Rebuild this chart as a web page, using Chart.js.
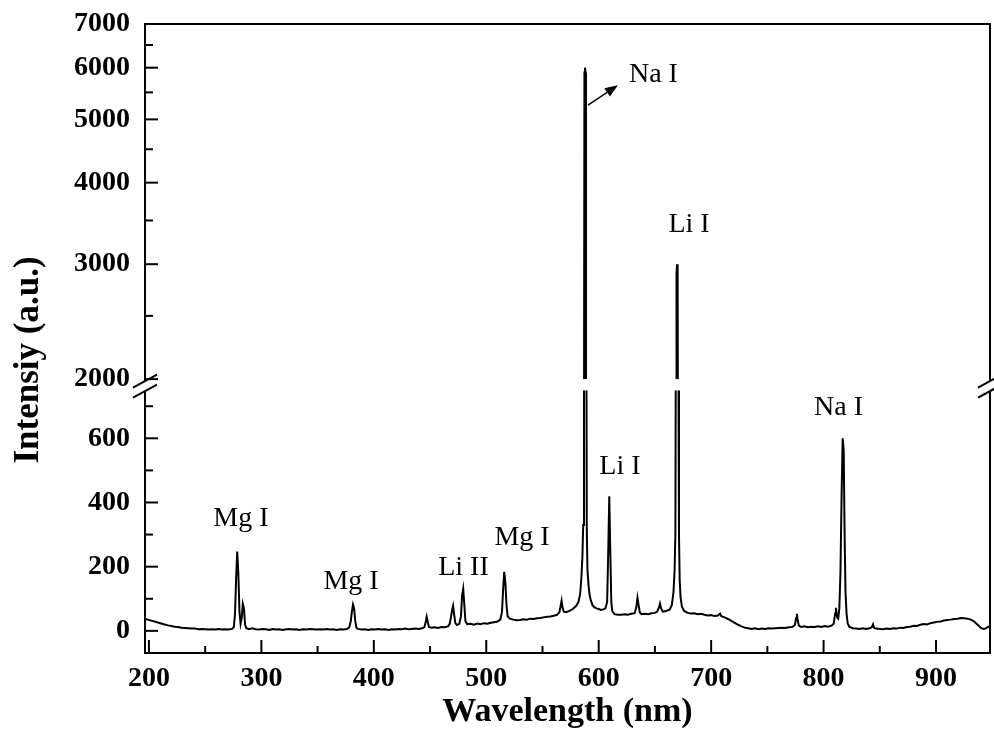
<!DOCTYPE html>
<html><head><meta charset="utf-8">
<script src="https://cdn.jsdelivr.net/npm/chart.js@4.4.1/dist/chart.umd.min.js"></script>
<style>html,body{margin:0;padding:0;background:#fff}#wrap{width:994px;height:734px;position:relative}</style>
</head><body><div id="wrap"><canvas id="c"></canvas></div>
<script>
const wavelength = [
196.5,199,202,205,208,211,214,217,220,223,
226,229,232,235,238,241,244,247,250,253,
256,259,262,265,268,271,274,275.5,276.5,277.5,
278.5,279.5,280.5,281.5,282.5,283.5,284.5,285.5,286.5,289,
292,295,298,301,304,307,310,313,316,319,
322,325,328,331,334,337,340,343,346,349,
352,355,358,361,364,367,370,373,376,378,
379.5,380.5,381.5,382.5,383.5,384.5,386,389,392,395,
398,401,404,407,410,413,416,419,422,425,
428,431,434,437,440,443,445,446,447,448,
449,451,454,457,460,463,466,467.5,468.5,469.5,
470.5,471.5,472.5,474,476,477.5,478.5,479.5,480.5,481.5,
483,486,489,492,495,498,501,504,507,510,
512.5,514,515,516,517,518,519,521,524,527,
530,533,536,539,542,545,548,551,554,557,
560,563,565,566,567,568,569,571,574,577,
580,582,583.5,584.5,585.5,586.2,586.9,587.3,587.8,588.3,
588.7,589.4,590,591,592,593,594.5,596,
598,600,602,604,606,607.5,608.5,609.4,610.3,611.2,
612,614,617,620,623,626,629,632,633.5,634.5,
635.5,636.5,638,641,644,647,650,652,653.5,654.5,
655.5,657,660,663,665,666.5,667.5,668.2,668.8,669.2,
669.7,670.2,670.6,671.4,672,672.8,674,676,679,
682,685,688,691,694,697,700,703,706,708,
709,712,715,718,721,724,727,730,733,736,
739,742,745,748,751,754,757,760,763,766,
769,772,774.5,775.5,776.3,777,778,780,783,786,
789,792,795,798,801,804,807,809,810.3,811,
812,813,814,815,816,817,817.9,818.7,819.5,820.5,
821.5,823,826,829,832,835,838,841,843,844,
845,847,850,853,856,859,862,865,868,871,
874,877,880,883,886,889,892,895,898,901,
904,907,910,913,916,919,922,925,928,931,
934,937,940,942,944,946,948
];
const intensity = [
37,35,32,29,26,23,20,17,15,13,
12,10,9,8,7,7,5,6,5,4,
5,4,6,4,5,4,6,12,50,160,
247,180,60,22,40,84,70,20,9,5,
8,5,4,6,5,3,6,4,5,3,
5,6,4,5,3,5,4,6,5,4,
5,4,6,4,5,3,5,4,6,10,
30,60,82,70,30,10,6,4,5,3,
5,4,6,4,5,3,5,4,6,5,
7,5,6,7,6,8,12,25,44,28,
12,10,11,9,12,11,14,22,40,62,
78,50,24,18,22,45,110,131,80,30,
21,22,19,23,21,24,22,25,27,29,
35,60,130,184,150,80,45,38,35,33,
34,36,35,38,37,39,40,42,44,45,
47,50,58,75,94,70,60,58,62,68,
78,90,115,160,230,330,1500,5900,6000,5900,
1500,320,190,140,110,95,80,74,
70,68,65,67,70,90,250,419,250,90,
62,52,50,50,52,50,53,55,75,103,
80,58,52,53,52,55,56,60,72,85,
70,60,62,66,80,120,190,300,1200,2900,
3000,2900,1200,300,160,105,75,62,56,
54,55,52,53,50,48,49,46,48,54,
46,42,37,31,25,19,14,10,8,6,
8,5,7,6,8,7,8,9,10,9,
11,12,18,40,53,32,16,12,14,11,
13,12,14,12,15,13,16,22,55,72,
42,38,70,180,420,600,560,300,120,50,
22,12,8,7,6,8,6,8,12,20,
9,7,6,5,7,6,8,7,10,9,
12,13,16,15,19,21,20,24,26,28,
29,32,34,35,37,38,40,39,38,35,
29,19,9,6,7,12,15
];
const xTickLabels = [200,300,400,500,600,700,800,900];
const xMinorTicks = [250,350,450,550,650,750,850];
const yUpperTicks = [2000,3000,4000,5000,6000,7000];
const yUpperMinor = [2500,3500,4500,5500,6500];
const yLowerTicks = [0,200,400,600];
const yLowerMinor = [100,300,500,700];
const peakLabels = ['Na I','Li I','Na I','Li I','Mg I','Mg I','Li II','Mg I'];
const labelWavelength = [648.7,680.3,813.3,618.9,281.8,379.7,479.7,531.8];
const labelIntensity = [5702,3366,672,487.5,328,131,175,266];
const labelAxis = ['yHigh','yHigh','yLow','yLow','yLow','yLow','yLow','yLow'];
const arrowFrom = [590.5,5257];
const arrowTo = [617.1,5642];
const xTitle = 'Wavelength (nm)';
const yTitle = 'Intensiy (a.u.)';

const SERIF = '"Liberation Serif","Times New Roman",serif';
const points = wavelength.map((w,i)=>({x:w,y:intensity[i]}));

const decor = {
  id:'decor',
  beforeDatasetDraw(chart,args){
    const ys=args.meta.yScale, a=chart.chartArea, ctx=chart.ctx;
    ctx.save(); ctx.beginPath();
    ctx.rect(a.left, ys.top, a.right-a.left, ys.bottom-ys.top); ctx.clip();
  },
  afterDatasetDraw(chart){ chart.ctx.restore(); },
  afterDraw(chart){
    const ctx=chart.ctx, a=chart.chartArea, sx=chart.scales.x, lo=chart.scales.yLow, hi=chart.scales.yHigh;
    ctx.save();
    ctx.strokeStyle='#000'; ctx.lineWidth=2;
    const seg=(x1,y1,x2,y2)=>{ctx.beginPath();ctx.moveTo(x1,y1);ctx.lineTo(x2,y2);ctx.stroke();};
    ctx.strokeRect(a.left,a.top,a.right-a.left,a.bottom-a.top);
    xTickLabels.forEach(v=>{const p=sx.getPixelForValue(v);seg(p,a.bottom,p,a.bottom-13);});
    xMinorTicks.forEach(v=>{const p=sx.getPixelForValue(v);seg(p,a.bottom,p,a.bottom-7);});
    yUpperTicks.forEach(v=>{const p=hi.getPixelForValue(v);seg(a.left,p,a.left+13,p);});
    yUpperMinor.forEach(v=>{const p=hi.getPixelForValue(v);seg(a.left,p,a.left+8,p);});
    yLowerTicks.forEach(v=>{const p=lo.getPixelForValue(v);seg(a.left,p,a.left+13,p);});
    yLowerMinor.forEach(v=>{const p=lo.getPixelForValue(v);seg(a.left,p,a.left+8,p);});
    const brk=(x)=>{
      const y1=hi.bottom+2, y2=lo.top+1;
      ctx.fillStyle='#fff';
      ctx.beginPath();ctx.moveTo(x-4,y1+2);ctx.lineTo(x+4,y1-2);ctx.lineTo(x+4,y2-2);ctx.lineTo(x-4,y2+2);ctx.closePath();ctx.fill();
      seg(x-12,y1+6.5,x+12,y1-6.5); seg(x-12,y2+6.5,x+12,y2-6.5);
    };
    brk(a.left); brk(a.right);
    ctx.fillStyle='#000';
    ctx.font='28px '+SERIF; ctx.textAlign='center'; ctx.textBaseline='alphabetic';
    peakLabels.forEach((t,i)=>{
      const ys=chart.scales[labelAxis[i]];
      ctx.fillText(t, sx.getPixelForValue(labelWavelength[i]), ys.getPixelForValue(labelIntensity[i]));
    });
    const x1=sx.getPixelForValue(arrowFrom[0]), y1=hi.getPixelForValue(arrowFrom[1]);
    const x2=sx.getPixelForValue(arrowTo[0]), y2=hi.getPixelForValue(arrowTo[1]);
    const ang=Math.atan2(y2-y1,x2-x1), L=13, W=5;
    const bx=x2-L*Math.cos(ang), by=y2-L*Math.sin(ang);
    ctx.lineWidth=1.5; seg(x1,y1,bx,by);
    ctx.beginPath(); ctx.moveTo(x2,y2);
    ctx.lineTo(bx+W*Math.sin(ang), by-W*Math.cos(ang));
    ctx.lineTo(bx-W*Math.sin(ang), by+W*Math.cos(ang));
    ctx.closePath(); ctx.fill();
    ctx.font='bold 34px '+SERIF; ctx.textAlign='center'; ctx.textBaseline='alphabetic';
    ctx.fillText(xTitle,(a.left+a.right)/2,721);
    ctx.save(); ctx.translate(38,360); ctx.rotate(-Math.PI/2);
    ctx.font='bold 35px '+SERIF; ctx.fillText(yTitle,0,0); ctx.restore();
    ctx.restore();
  }
};

const tickFont={family:SERIF,size:28,weight:'bold'};
const setTicks=(arr)=>(s)=>{s.ticks=arr.map(v=>({value:v}));};
const fitY=(s)=>{s.width=145;s.paddingTop=0;s.paddingBottom=0;};

new Chart(document.getElementById('c'),{
  type:'line',
  data:{datasets:[
    {data:points,yAxisID:'yLow',borderColor:'#000',borderWidth:2,pointRadius:0,tension:0,fill:false},
    {data:points,yAxisID:'yHigh',borderColor:'#000',borderWidth:2,pointRadius:0,tension:0,fill:false}
  ]},
  options:{
    responsive:true,maintainAspectRatio:false,animation:false,
    layout:{padding:{top:24,right:4,left:0,bottom:0}},
    plugins:{legend:{display:false},tooltip:{enabled:false}},
    scales:{
      x:{type:'linear',position:'bottom',min:196.5,max:948,
        grid:{display:false,drawTicks:false},border:{display:false},
        afterBuildTicks:setTicks(xTickLabels),
        afterFit:(s)=>{s.height=81;s.paddingLeft=0;s.paddingRight=0;},
        ticks:{font:tickFont,color:'#000',padding:9,maxRotation:0,autoSkip:false,callback:(v)=>String(v)}},
      yLow:{type:'linear',position:'left',stack:'y',stackWeight:262,min:-69,max:750,
        grid:{display:false,drawTicks:false},border:{display:false},
        afterBuildTicks:setTicks(yLowerTicks),
        afterFit:fitY,
        ticks:{font:tickFont,color:'#000',padding:15,autoSkip:false,callback:(v)=>String(v)}},
      yGap:{type:'linear',position:'left',stack:'y',stackWeight:11,min:0,max:1,
        grid:{display:false,drawTicks:false},border:{display:false},
        afterFit:fitY,
        ticks:{display:false}},
      yHigh:{type:'logarithmic',position:'left',stack:'y',stackWeight:354,min:2000,max:7000,
        grid:{display:false,drawTicks:false},border:{display:false},
        afterBuildTicks:setTicks(yUpperTicks),
        afterFit:fitY,
        ticks:{font:tickFont,color:'#000',padding:15,autoSkip:false,callback:(v)=>String(v)}}
    }
  },
  plugins:[decor]
});
</script>
</body></html>
